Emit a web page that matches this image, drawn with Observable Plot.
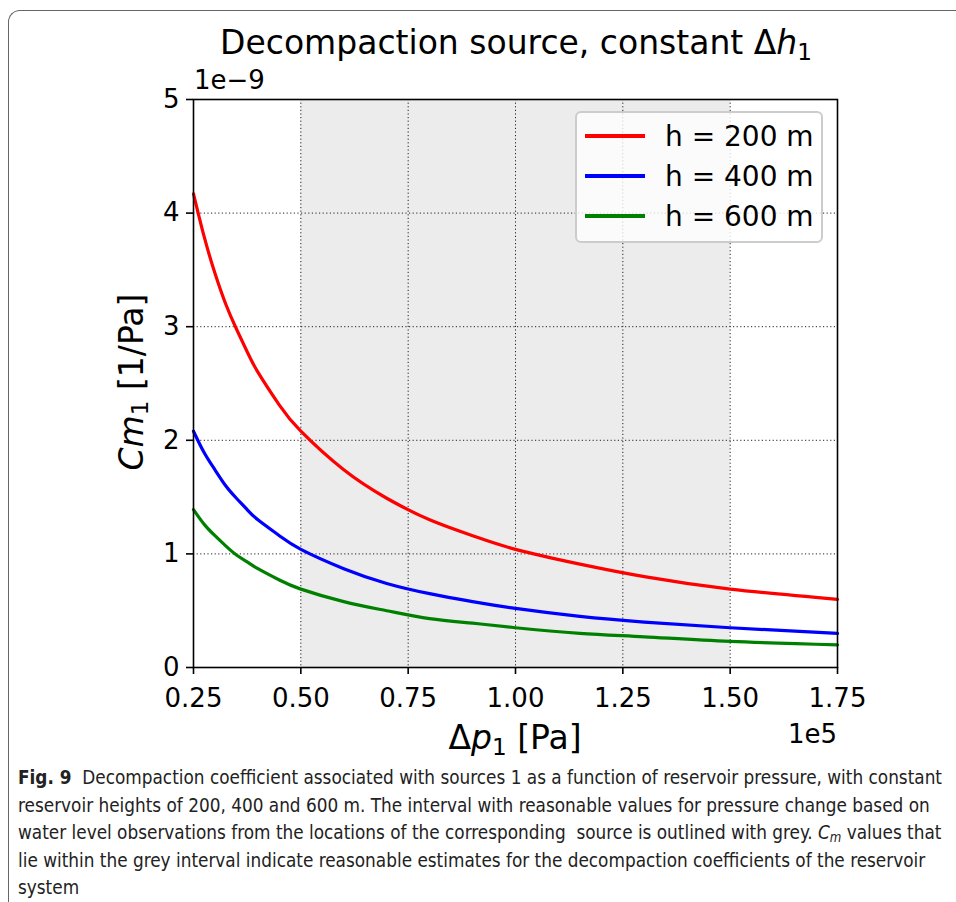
<!DOCTYPE html>
<html>
<head>
<meta charset="utf-8">
<script src="https://cdn.jsdelivr.net/npm/d3@7"></script>
<script src="https://cdn.jsdelivr.net/npm/@observablehq/plot@0.6"></script>
<style>
  html, body { margin: 0; padding: 0; background: #fff; overflow: hidden; }
  #wrap { position: relative; width: 956px; height: 902px; font-family: "DejaVu Sans", sans-serif; color: #000; }
  #border { position: absolute; left: 8px; top: 10px; width: 1000px; height: 1000px;
            border-top: 1.5px solid #666; border-left: 1.5px solid #666; border-top-left-radius: 12px; }
  #chart { position: absolute; left: 0; top: 0; }
  .lbl { position: absolute; white-space: nowrap; line-height: 1; }
  .lbl sub { font-size: 0.7em; vertical-align: -0.25em; line-height: 0; }
  #title { left: 516px; top: 26px; transform: translateX(-50%); font-size: 33px; }
  #xlabel { left: 515px; top: 721px; transform: translateX(-50%); font-size: 33px; }
  #ylabel { left: 131px; top: 382px; transform: translate(-50%, -50%) rotate(-90deg); font-size: 33px; }
  #yoff { left: 194px; top: 67px; font-size: 26px; }
  #xoff { right: calc(956px - 837px); top: 721px; font-size: 26px; }
  #legend { position: absolute; left: 575px; top: 111px; width: 248px; height: 132px;
            border: 2px solid #ccc; border-radius: 6px; background: rgba(255,255,255,0.8); box-sizing: border-box; }
  .entry { position: absolute; left: 8px; height: 30px; display: flex; align-items: center; font-size: 28px; }
  .entry .swatch { width: 60px; height: 3.5px; margin-right: 20px; }
  #caption { position: absolute; left: 18px; top: 764px; font-family: "Liberation Sans Narrow", "DejaVu Sans Condensed", sans-serif;
             font-size: 20px; line-height: 27.5px; color: #222; white-space: nowrap; transform-origin: 0 0; }
  #caption div { height: 27.5px; }
  #caption sub { font-size: 0.7em; vertical-align: -0.2em; line-height: 0; }
</style>
</head>
<body>
<div id="wrap">
  <div id="border"></div>
  <div id="chart"></div>
  <div class="lbl" id="title">Decompaction source, constant Δ<i>h</i><sub>1</sub></div>
  <div class="lbl" id="yoff">1e−9</div>
  <div class="lbl" id="xoff">1e5</div>
  <div class="lbl" id="xlabel">Δ<i>p</i><sub>1</sub> [Pa]</div>
  <div class="lbl" id="ylabel"><i>Cm</i><sub>1</sub> [1/Pa]</div>
  <div id="legend"></div>
  <div id="caption"></div>
</div>
<script>
// Pressure change Δp1 (units of 1e5 Pa)
const dp = [0.25, 0.275, 0.30, 0.325, 0.35, 0.375, 0.40, 0.45, 0.50, 0.60, 0.70, 0.80, 0.90, 1.00, 1.15, 1.30, 1.50, 1.75];
// Decompaction coefficient Cm1 (units of 1e-9 1/Pa) for each reservoir height
const cm200 = [4.17, 3.79, 3.47, 3.20, 2.98, 2.78, 2.60, 2.31, 2.08, 1.74, 1.49, 1.30, 1.16, 1.04, 0.91, 0.80, 0.69, 0.60];
const cm400 = [2.08, 1.89, 1.74, 1.60, 1.49, 1.39, 1.30, 1.16, 1.04, 0.87, 0.74, 0.65, 0.58, 0.52, 0.45, 0.40, 0.35, 0.30];
const cm600 = [1.39, 1.26, 1.16, 1.07, 0.99, 0.93, 0.87, 0.77, 0.69, 0.58, 0.50, 0.43, 0.39, 0.35, 0.30, 0.27, 0.23, 0.20];
const seriesNames = ["h = 200 m", "h = 400 m", "h = 600 m"];
const seriesColors = ["#ff0000", "#0000ff", "#008000"];
// Reasonable pressure-change interval (shaded)
const band = [0.50, 1.50];
const xTicks = [0.25, 0.50, 0.75, 1.00, 1.25, 1.50, 1.75];
const yTicks = [0, 1, 2, 3, 4, 5];

const captionLines = [
  "<b>Fig. 9</b>&nbsp; Decompaction coefficient associated with sources 1 as a function of reservoir pressure, with constant",
  "reservoir heights of 200, 400 and 600 m. The interval with reasonable values for pressure change based on",
  "water level observations from the locations of the corresponding &nbsp;source is outlined with grey. <i>C<sub>m</sub></i> values that",
  "lie within the grey interval indicate reasonable estimates for the decompaction coefficients of the reservoir",
  "system"
];

const rows = [];
[cm200, cm400, cm600].forEach((vals, i) => {
  vals.forEach((v, j) => rows.push({dp: dp[j], cm: v, series: seriesNames[i]}));
});

const chart = Plot.plot({
  width: 956,
  height: 760,
  marginTop: 99,
  marginBottom: 93,
  marginLeft: 193,
  marginRight: 119,
  style: {fontFamily: "DejaVu Sans", fontSize: "26px", color: "#000", background: "transparent"},
  x: {domain: [0.25, 1.75]},
  y: {domain: [0, 5]},
  color: {domain: seriesNames, range: seriesColors},
  marks: [
    Plot.rect([band], {x1: d => d[0], x2: d => d[1], fill: "#ececec"}),
    Plot.gridX(xTicks, {stroke: "#222", strokeOpacity: 1, strokeWidth: 1, strokeDasharray: "1.2,2.4"}),
    Plot.gridY(yTicks, {stroke: "#222", strokeOpacity: 1, strokeWidth: 1, strokeDasharray: "1.2,2.4"}),
    Plot.line(rows, {x: "dp", y: "cm", z: "series", stroke: "series", strokeWidth: 3.2, curve: "natural"}),
    Plot.frame({stroke: "#000", strokeWidth: 1.6}),
    Plot.axisX(xTicks, {tickFormat: d3.format(".2f"), tickSize: 7, tickPadding: 14, strokeWidth: 1.6, label: null, fontSize: 26}),
    Plot.axisY(yTicks, {tickFormat: d3.format("d"), tickSize: 7, tickPadding: 7, strokeWidth: 1.6, label: null, fontSize: 26})
  ]
});
document.getElementById("chart").appendChild(chart);

// Legend entries
const legend = document.getElementById("legend");
seriesNames.forEach((name, i) => {
  const e = document.createElement("div");
  e.className = "entry";
  e.style.top = (8 + i * 40) + "px";
  e.innerHTML = `<span class="swatch" style="background:${seriesColors[i]}"></span><span>${name}</span>`;
  legend.appendChild(e);
});

// Caption
const cap = document.getElementById("caption");
cap.innerHTML = captionLines.map(l => `<div>${l}</div>`).join("");
// Fit the first caption line to the text column width
const first = cap.firstChild.cloneNode(true);
first.style.display = "inline-block";
cap.appendChild(first);
const w = first.getBoundingClientRect().width;
cap.removeChild(first);
if (w > 0) cap.style.transform = `scaleX(${924 / w})`;
</script>
</body>
</html>
